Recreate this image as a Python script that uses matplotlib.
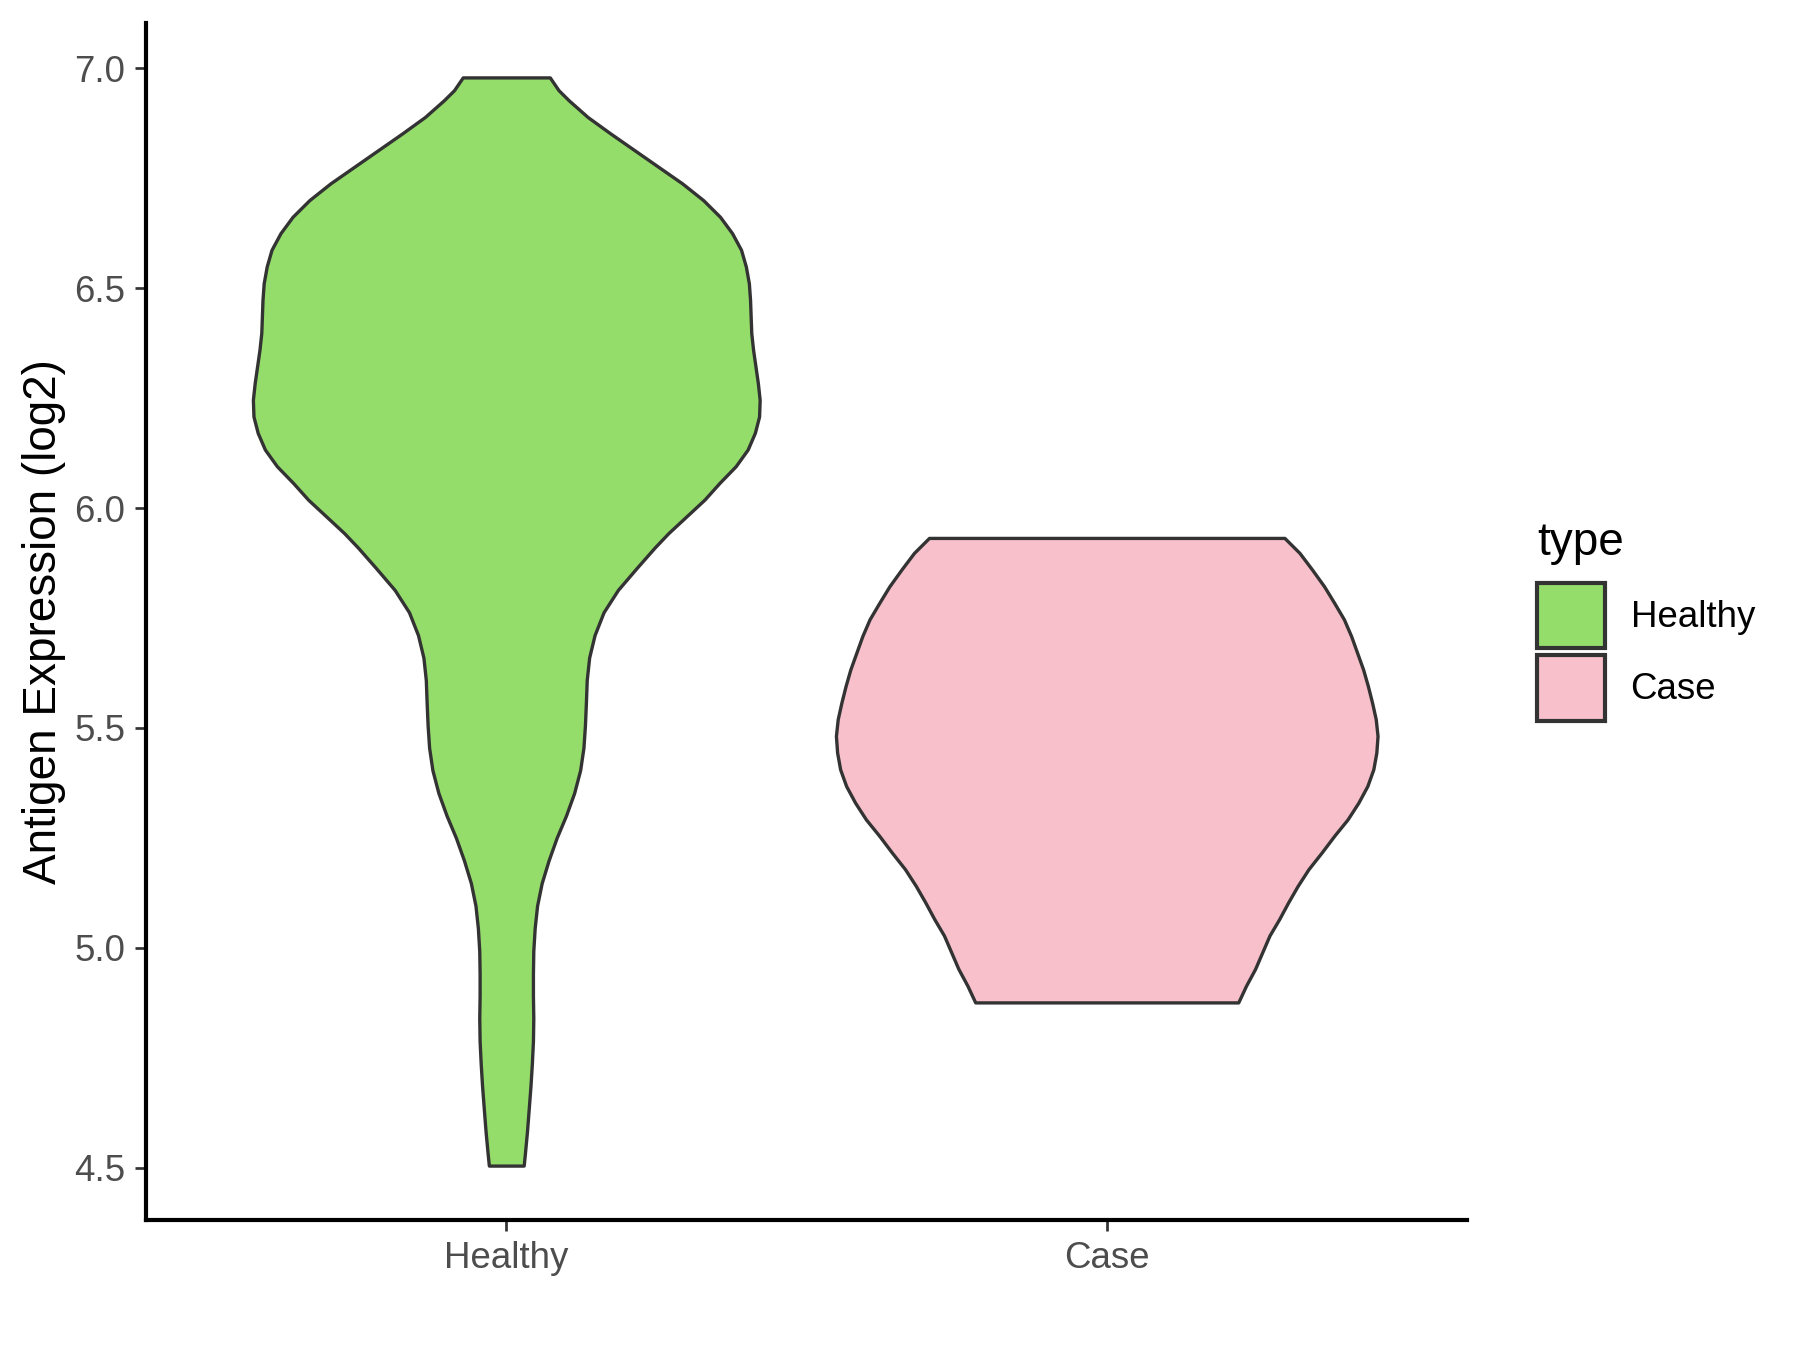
import numpy as np
import matplotlib.pyplot as plt
from matplotlib.patches import Patch

plt.rcParams['font.family'] = ['Liberation Sans', 'DejaVu Sans']

# === Data: violin outlines (value, half-width in category units) ===
groups = ['Healthy', 'Case']

healthy_y = [6.979, 6.950, 6.927, 6.889, 6.852, 6.814, 6.776, 6.738, 6.700, 6.662,
             6.625, 6.587, 6.549, 6.511, 6.473, 6.435, 6.398, 6.360, 6.322, 6.284,
             6.246, 6.208, 6.171, 6.133, 6.095, 6.057, 6.019, 5.981, 5.943, 5.910,
             5.865, 5.814, 5.763, 5.711, 5.660, 5.609, 5.557, 5.506, 5.455, 5.404,
             5.352, 5.301, 5.250, 5.199, 5.147, 5.096, 5.045, 4.993, 4.942, 4.891,
             4.840, 4.788, 4.737, 4.686, 4.634, 4.583, 4.532, 4.505]
healthy_hw = [0.0725, 0.087, 0.104, 0.1355, 0.173, 0.213, 0.253, 0.293, 0.328, 0.356,
              0.376, 0.391, 0.399, 0.404, 0.406, 0.407, 0.408, 0.411, 0.415, 0.419,
              0.422, 0.421, 0.414, 0.402, 0.382, 0.355, 0.330, 0.300, 0.270, 0.247,
              0.218, 0.186, 0.162, 0.147, 0.138, 0.134, 0.1326, 0.131, 0.1285, 0.123,
              0.113, 0.0995, 0.0838, 0.0705, 0.0589, 0.0513, 0.0473, 0.045, 0.0444, 0.0444,
              0.045, 0.0444, 0.0426, 0.0403, 0.0374, 0.0345, 0.031, 0.029]

case_y = [5.932, 5.898, 5.860, 5.822, 5.784, 5.747, 5.709, 5.671, 5.633, 5.595,
          5.557, 5.520, 5.482, 5.444, 5.406, 5.368, 5.330, 5.292, 5.255, 5.217,
          5.179, 5.141, 5.103, 5.065, 5.028, 4.990, 4.952, 4.914, 4.876]
case_hw = [0.296, 0.321, 0.342, 0.362, 0.379, 0.395, 0.407, 0.417, 0.427, 0.435,
           0.442, 0.448, 0.451, 0.449, 0.444, 0.434, 0.419, 0.401, 0.379, 0.358,
           0.336, 0.318, 0.302, 0.287, 0.271, 0.259, 0.247, 0.232, 0.219]

y_ticks = [4.5, 5.0, 5.5, 6.0, 6.5, 7.0]

colors = {'Healthy': '#95DD6B', 'Case': '#F7C0CB'}
outline = '#333333'

# === Plot ===
fig = plt.figure(figsize=(6, 4.5), dpi=300)
ax = fig.add_axes([146 / 1800, 130 / 1350, 1321 / 1800, 1197 / 1350])

profiles = {'Healthy': (healthy_y, healthy_hw), 'Case': (case_y, case_hw)}
for i, g in enumerate(groups):
    y = np.array(profiles[g][0])
    hw = np.array(profiles[g][1])
    ax.fill_betweenx(y, i - hw, i + hw, facecolor=colors[g], edgecolor=outline,
                     linewidth=0.8, joinstyle='round', zorder=2)

# ggplot-style 5% expansion on y, 0.6 on discrete x
all_y = healthy_y + case_y
lo, hi = min(all_y), max(all_y)
ax.set_ylim(lo - 0.05 * (hi - lo), hi + 0.05 * (hi - lo))
ax.set_xlim(-0.6, len(groups) - 1 + 0.6)

ax.set_xticks(range(len(groups)), groups)
ax.set_yticks(y_ticks, [f'{v:.1f}' for v in y_ticks])

for side in ['top', 'right']:
    ax.spines[side].set_visible(False)
for side in ['left', 'bottom']:
    ax.spines[side].set_linewidth(1.0)
    ax.spines[side].set_color('black')
    ax.spines[side].set_capstyle('projecting')

ax.tick_params(length=2.75, width=0.65, color=outline, labelsize=8.8,
               labelcolor='#4D4D4D', pad=2.2)
ax.set_ylabel('Antigen Expression (log2)', fontsize=11, color='black', labelpad=2)

# legend: title as separate text, keys below it
fig.text(1537 / 1800, 1 - 555 / 1350, 'type', fontsize=11, va='baseline', ha='left')
handles = [Patch(facecolor=colors[g], edgecolor=outline, linewidth=1.0, label=g) for g in groups]
ax.legend(handles=handles, loc='upper left',
          bbox_to_anchor=(1537 / 1800, 1 - 583 / 1350), bbox_transform=fig.transFigure,
          frameon=False, fontsize=8.8, handlelength=1.85, handleheight=2.37,
          handletextpad=0.7, labelspacing=0.19, borderpad=0, borderaxespad=0)

fig.savefig('out.png', dpi=300)
